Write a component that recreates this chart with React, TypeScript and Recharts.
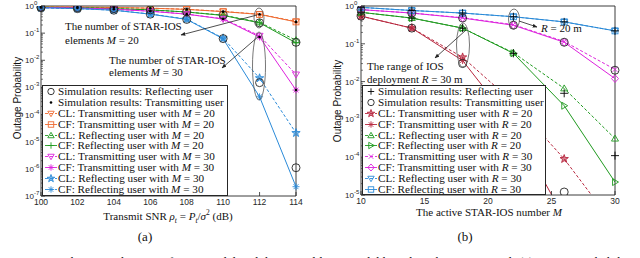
import React from 'react'
import { LineChart, Line, XAxis, YAxis, ReferenceArea } from 'recharts'

// ---- data ----
const snrDb = [100, 102, 104, 106, 108, 110, 112, 114]
const clTxM20 = [0.93, 0.91, 0.88, 0.83, 0.76, 0.63, 0.5, 0.27]
const cfTxM20 = [0.93, 0.91, 0.88, 0.83, 0.75, 0.62, 0.49, 0.26]
const clRefM20 = [0.9, 0.87, 0.8, 0.72, 0.6, 0.46, 0.25, 0.055]
const cfRefM20 = [0.9, 0.87, 0.8, 0.72, 0.6, 0.45, 0.24, 0.044]
const clTxM30 = [0.88, 0.84, 0.76, 0.65, 0.5, 0.34, 0.08, 0.003]
const cfTxM30 = [0.88, 0.84, 0.76, 0.64, 0.5, 0.33, 0.072, 0.0008]
const clRefM30 = [0.86, 0.8, 0.7, 0.51, 0.33, 0.065, 0.0022, 2.1e-5]
const cfRefM30 = [0.86, 0.8, 0.7, 0.5, 0.32, 0.062, 0.00045, 2.2e-7]
const simRefM20 = [0.9, 0.87, 0.8, 0.72, 0.6, 0.46, 0.24, 0.046]
const simRefM30 = [0.86, 0.8, 0.7, 0.5, 0.32, 0.063, 0.0015, 1.1e-6]
const simTxM20 = [0.93, 0.91, 0.88, 0.83, 0.75, 0.62, 0.49, 0.26]
const simTxM30 = [0.88, 0.84, 0.76, 0.64, 0.5, 0.33, 0.072, 0.0008]

const activeM = [10, 14, 18, 22, 26, 30]
const clTxR20 = [0.54, 0.26, 0.044, 2.8e-3, 9e-5, 1.5e-6]
const cfTxR20 = [0.54, 0.26, 0.036, 7e-4, 2.5e-6, 2e-8]
const clRefR20 = [0.68, 0.48, 0.26, 0.058, 6.6e-3, 3.1e-4]
const cfRefR20 = [0.68, 0.48, 0.26, 0.056, 2.3e-3, 2.2e-5]
const clTxR30 = [0.8, 0.65, 0.49, 0.32, 0.115, 0.021]
const cfTxR30 = [0.8, 0.65, 0.48, 0.31, 0.11, 0.012]
const clRefR30 = [0.92, 0.76, 0.65, 0.52, 0.38, 0.22]
const cfRefR30 = [0.92, 0.76, 0.65, 0.52, 0.38, 0.22]
const simRefR20 = [0.68, 0.48, 0.26, 0.056, 4.9e-3, 1.1e-4]
const simRefR30 = [0.92, 0.76, 0.65, 0.52, 0.38, 0.22]
const simTxR20 = [0.54, 0.26, 0.03, 1e-3, 1.2e-5, 1e-7]
const simTxR30 = [0.8, 0.65, 0.48, 0.31, 0.11, 0.02]

const leftXTicks = [100, 102, 104, 106, 108, 110, 112, 114]
const rightXTicks = [10, 15, 20, 25, 30]

// decade ticks plus the 2..9 minor ticks of a log axis
function logTicks(minExp: number) {
  const out: number[] = []
  for (let e = minExp; e < 0; e++) {
    for (let m = 1; m <= 9; m++) out.push(Number((m * Math.pow(10, e)).toPrecision(3)))
  }
  out.push(1)
  return out
}
const leftYTicks = logTicks(-7)
const rightYTicks = logTicks(-5)

const leftRows = snrDb.map((x, i) => ({
  x,
  clTxM20: clTxM20[i], cfTxM20: cfTxM20[i], clRefM20: clRefM20[i], cfRefM20: cfRefM20[i],
  clTxM30: clTxM30[i], cfTxM30: cfTxM30[i], clRefM30: clRefM30[i], cfRefM30: cfRefM30[i],
  simRefM20: simRefM20[i], simRefM30: simRefM30[i], simTxM20: simTxM20[i], simTxM30: simTxM30[i],
}))

const rightRows = activeM.map((x, i) => ({
  x,
  clTxR20: clTxR20[i], cfTxR20: cfTxR20[i], clRefR20: clRefR20[i], cfRefR20: cfRefR20[i],
  clTxR30: clTxR30[i], cfTxR30: cfTxR30[i], clRefR30: clRefR30[i], cfRefR30: cfRefR30[i],
  simRefR20: simRefR20[i], simRefR30: simRefR30[i], simTxR20: simTxR20[i], simTxR30: simTxR30[i],
}))

const SERIF = '"Liberation Serif", "Times New Roman", serif'
const SANS = '"Liberation Sans", Arial, sans-serif'
const AX = '#262626'

const ORANGE = '#ee6a30'
const GREEN = '#1f9a1f'
const MAGENTA = '#dd22dd'
const BLUE = '#2a8ad8'
const RED = '#b8283f'
const DASH = '3 2'

type Shape = 'circle' | 'dot' | 'triDown' | 'triUp' | 'triRight' | 'square' | 'plus' | 'asterisk' | 'star' | 'cross' | 'diamond'

function MarkerShape({ shape, cx, cy, color, s = 3.5 }: { shape: Shape; cx: number; cy: number; color: string; s?: number }) {
  const sw = 0.9
  const common = { fill: 'none', stroke: color, strokeWidth: sw }
  switch (shape) {
    case 'circle':
      return <circle cx={cx} cy={cy} r={s} {...common} />
    case 'dot':
      return <circle cx={cx} cy={cy} r={1.3} fill={color} />
    case 'triDown':
      return <polygon points={`${cx - s},${cy - s * 0.7} ${cx + s},${cy - s * 0.7} ${cx},${cy + s}`} {...common} />
    case 'triUp':
      return <polygon points={`${cx - s},${cy + s * 0.7} ${cx + s},${cy + s * 0.7} ${cx},${cy - s}`} {...common} />
    case 'triRight':
      return <polygon points={`${cx - s * 0.7},${cy - s} ${cx - s * 0.7},${cy + s} ${cx + s},${cy}`} {...common} />
    case 'square':
      return <rect x={cx - s * 0.85} y={cy - s * 0.85} width={s * 1.7} height={s * 1.7} {...common} />
    case 'diamond':
      return <polygon points={`${cx},${cy - s * 1.1} ${cx + s},${cy} ${cx},${cy + s * 1.1} ${cx - s},${cy}`} {...common} />
    case 'plus':
      return (
        <g stroke={color} strokeWidth={sw}>
          <line x1={cx - s} x2={cx + s} y1={cy} y2={cy} />
          <line x1={cx} x2={cx} y1={cy - s} y2={cy + s} />
        </g>
      )
    case 'cross':
      return (
        <g stroke={color} strokeWidth={sw}>
          <line x1={cx - s * 0.7} x2={cx + s * 0.7} y1={cy - s * 0.7} y2={cy + s * 0.7} />
          <line x1={cx - s * 0.7} x2={cx + s * 0.7} y1={cy + s * 0.7} y2={cy - s * 0.7} />
        </g>
      )
    case 'asterisk':
      return (
        <g stroke={color} strokeWidth={sw}>
          <line x1={cx - s} x2={cx + s} y1={cy} y2={cy} />
          <line x1={cx} x2={cx} y1={cy - s} y2={cy + s} />
          <line x1={cx - s * 0.7} x2={cx + s * 0.7} y1={cy - s * 0.7} y2={cy + s * 0.7} />
          <line x1={cx - s * 0.7} x2={cx + s * 0.7} y1={cy + s * 0.7} y2={cy - s * 0.7} />
        </g>
      )
    case 'star': {
      const pts: string[] = []
      for (let k = 0; k < 10; k++) {
        const r = k % 2 === 0 ? s * 1.25 : s * 0.5
        const a = -Math.PI / 2 + (k * Math.PI) / 5
        pts.push(`${cx + r * Math.cos(a)},${cy + r * Math.sin(a)}`)
      }
      return <polygon points={pts.join(' ')} fill={color} fillOpacity={0.6} stroke={color} strokeWidth={sw} />
    }
  }
  return null
}

type Series = { key: string; color: string; shape: Shape; dash?: string; noLine?: boolean; s?: number }

const leftSeries: Series[] = [
  { key: 'clTxM20', color: ORANGE, shape: 'triDown', dash: DASH },
  { key: 'cfTxM20', color: ORANGE, shape: 'square' },
  { key: 'clRefM20', color: GREEN, shape: 'triUp', dash: DASH },
  { key: 'cfRefM20', color: GREEN, shape: 'plus' },
  { key: 'clTxM30', color: MAGENTA, shape: 'triDown', dash: DASH },
  { key: 'cfTxM30', color: MAGENTA, shape: 'asterisk' },
  { key: 'clRefM30', color: BLUE, shape: 'star', dash: DASH },
  { key: 'cfRefM30', color: BLUE, shape: 'asterisk' },
  { key: 'simRefM20', color: AX, shape: 'circle', noLine: true, s: 4 },
  { key: 'simRefM30', color: AX, shape: 'circle', noLine: true, s: 4 },
  { key: 'simTxM20', color: '#000', shape: 'dot', noLine: true },
  { key: 'simTxM30', color: '#000', shape: 'dot', noLine: true },
]

const rightSeries: Series[] = [
  { key: 'clTxR20', color: RED, shape: 'star', dash: DASH },
  { key: 'cfTxR20', color: RED, shape: 'asterisk' },
  { key: 'clRefR20', color: GREEN, shape: 'triUp', dash: DASH },
  { key: 'cfRefR20', color: GREEN, shape: 'triRight' },
  { key: 'clTxR30', color: MAGENTA, shape: 'cross', dash: DASH },
  { key: 'cfTxR30', color: MAGENTA, shape: 'diamond' },
  { key: 'clRefR30', color: BLUE, shape: 'triDown', dash: DASH },
  { key: 'cfRefR30', color: BLUE, shape: 'square' },
  { key: 'simRefR20', color: '#000', shape: 'plus', noLine: true, s: 4 },
  { key: 'simRefR30', color: '#000', shape: 'plus', noLine: true, s: 4 },
  { key: 'simTxR20', color: AX, shape: 'circle', noLine: true, s: 4 },
  { key: 'simTxR30', color: AX, shape: 'circle', noLine: true, s: 4 },
]

const isDecade = (v: number) => Math.abs(Math.log10(v) - Math.round(Math.log10(v))) < 1e-6

function LogTick(props: any) {
  const { x, y, payload } = props
  const v = payload.value as number
  if (!isDecade(v)) {
    return <line x1={x + 3} x2={x + 5} y1={y} y2={y} stroke={AX} strokeWidth={0.6} />
  }
  const exp = Math.round(Math.log10(v))
  return (
    <g>
      <line x1={x + 3} x2={x + 7} y1={y} y2={y} stroke={AX} strokeWidth={0.8} />
      <text x={x - 13} y={y + 3} fontSize={8} fontFamily={SANS} fill={AX}>
        10
        <tspan dy={-4} fontSize={6}>{exp}</tspan>
      </text>
    </g>
  )
}

// inward tick marks on the right edge of the box
function RightTick(props: any) {
  const { x, y, payload } = props
  const len = isDecade(payload.value) ? 4 : 2
  return <line x1={x} x2={x - len} y1={y} y2={y} stroke={AX} strokeWidth={0.6} />
}

function TopTick(props: any) {
  const { x, y } = props
  return <line x1={x} x2={x} y1={y} y2={y + 4} stroke={AX} strokeWidth={0.6} />
}

function NumTick(props: any) {
  const { x, y, payload } = props
  return (
    <g>
      <line x1={x} x2={x} y1={y - 3} y2={y - 7} stroke={AX} strokeWidth={0.8} />
      <text x={x} y={y + 6} textAnchor="middle" fontSize={8.5} fontFamily={SANS} fill={AX}>
        {payload.value}
      </text>
    </g>
  )
}

function renderSeries(list: Series[]) {
  return list.map((sr) => (
    <Line
      key={sr.key}
      dataKey={sr.key}
      type="linear"
      stroke={sr.noLine ? 'none' : sr.color}
      strokeWidth={1}
      strokeDasharray={sr.dash}
      isAnimationActive={false}
      activeDot={false}
      dot={(p: any) =>
        p.cx == null || p.cy == null ? (
          <g key={`${sr.key}-${p.index}`} />
        ) : (
          <g key={`${sr.key}-${p.index}`}>
            <MarkerShape shape={sr.shape} cx={p.cx} cy={p.cy} color={sr.color} s={sr.s} />
          </g>
        )
      }
    />
  ))
}

type LegendItem = { text: string; sym?: string; val?: string; color: string; shape: Shape; dash?: string; line?: boolean }

const leftLegend: LegendItem[] = [
  { text: 'Simulation results: Reflecting user', color: AX, shape: 'circle' },
  { text: 'Simulation results: Transmitting user', color: '#000', shape: 'dot' },
  { text: 'CL: Transmitting user with', sym: 'M', val: '20', color: ORANGE, shape: 'triDown', dash: DASH, line: true },
  { text: 'CF: Transmitting user with', sym: 'M', val: '20', color: ORANGE, shape: 'square', line: true },
  { text: 'CL: Reflecting user with', sym: 'M', val: '20', color: GREEN, shape: 'triUp', dash: DASH, line: true },
  { text: 'CF: Reflecting user with', sym: 'M', val: '20', color: GREEN, shape: 'plus', line: true },
  { text: 'CL: Transmitting user with', sym: 'M', val: '30', color: MAGENTA, shape: 'triDown', dash: DASH, line: true },
  { text: 'CF: Transmitting user with', sym: 'M', val: '30', color: MAGENTA, shape: 'asterisk', line: true },
  { text: 'CL: Reflecting user with', sym: 'M', val: '30', color: BLUE, shape: 'star', dash: DASH, line: true },
  { text: 'CF: Reflecting user with', sym: 'M', val: '30', color: BLUE, shape: 'asterisk', dash: DASH, line: true },
]

const rightLegend: LegendItem[] = [
  { text: 'Simulation results: Reflecting user', color: '#000', shape: 'plus' },
  { text: 'Simulation results: Transmitting user', color: AX, shape: 'circle' },
  { text: 'CL: Transmitting user with', sym: 'R', val: '20', color: RED, shape: 'star', dash: DASH, line: true },
  { text: 'CF: Transmitting user with', sym: 'R', val: '20', color: RED, shape: 'asterisk', line: true },
  { text: 'CL: Reflecting user with', sym: 'R', val: '20', color: GREEN, shape: 'triUp', dash: DASH, line: true },
  { text: 'CF: Reflecting user with', sym: 'R', val: '20', color: GREEN, shape: 'triRight', line: true },
  { text: 'CL: Transmitting user with', sym: 'R', val: '30', color: MAGENTA, shape: 'cross', dash: DASH, line: true },
  { text: 'CF: Transmitting user with', sym: 'R', val: '30', color: MAGENTA, shape: 'diamond', line: true },
  { text: 'CL: Reflecting user with', sym: 'R', val: '30', color: BLUE, shape: 'triDown', dash: DASH, line: true },
  { text: 'CF: Reflecting user with', sym: 'R', val: '30', color: BLUE, shape: 'square', line: true },
]

function LegendBox({ items, left, top, width, height }: { items: LegendItem[]; left: number; top: number; width: number; height: number }) {
  return (
    <div
      style={{
        position: 'absolute', left, top, width, height, boxSizing: 'border-box',
        border: `1px solid ${AX}`, background: '#fff', padding: '0 0 0 1px', overflow: 'hidden',
        fontFamily: SERIF, fontSize: 11.2, color: '#111',
      }}
    >
      {items.map((it, i) => (
        <div key={i} style={{ height: 10.9, display: 'flex', alignItems: 'center', whiteSpace: 'nowrap', lineHeight: '11px' }}>
          <svg width={14} height={11} style={{ flex: 'none' }}>
            {it.line && <line x1={1} x2={13} y1={5.5} y2={5.5} stroke={it.color} strokeDasharray={it.dash} strokeWidth={0.9} />}
            <MarkerShape shape={it.shape} cx={7} cy={5.5} color={it.color} s={3.2} />
          </svg>
          <span>
            {it.text}
            {it.sym && (
              <>
                {' '}<i>{it.sym}</i>{' = '}{it.val}
              </>
            )}
          </span>
        </div>
      ))}
    </div>
  )
}

function Txt({ x, y, children, size = 11, center = false, font = SERIF }: { x: number; y: number; children: React.ReactNode; size?: number; center?: boolean; font?: string }) {
  return (
    <div
      style={{
        position: 'absolute', left: x, top: y - size * 0.6, fontFamily: font, fontSize: size,
        lineHeight: `${size * 1.2}px`, whiteSpace: 'nowrap', color: '#111',
        transform: center ? 'translateX(-50%)' : undefined,
      }}
    >
      {children}
    </div>
  )
}

export default function App() {
  return (
    <div style={{ position: 'relative', width: 640, height: 258, overflow: 'hidden', background: '#fff' }}>
      <style>{'body{margin:0}'}</style>

      <div style={{ position: 'absolute', left: 0, top: 0 }}>
        <LineChart width={310} height={215} data={leftRows} margin={{ top: 6, right: 14, bottom: 0, left: 0 }}>
          <XAxis dataKey="x" type="number" domain={[100, 114]} ticks={leftXTicks} interval={0} height={19}
            axisLine={false} tickLine={false} tickSize={0} tickMargin={3} tick={<NumTick />} />
          <XAxis xAxisId="top" orientation="top" dataKey="x" type="number" domain={[100, 114]} ticks={leftXTicks} interval={0} height={0}
            axisLine={false} tickLine={false} tickSize={0} tickMargin={0} tick={<TopTick />} />
          <YAxis type="number" scale="log" domain={[1e-7, 1]} ticks={leftYTicks} interval={0} width={41}
            allowDataOverflow axisLine={false} tickLine={false} tickSize={0} tickMargin={3} tick={<LogTick />} />
          <YAxis yAxisId="right" orientation="right" type="number" scale="log" domain={[1e-7, 1]} ticks={leftYTicks} interval={0} width={0}
            allowDataOverflow axisLine={false} tickLine={false} tickSize={0} tickMargin={0} tick={<RightTick />} />
          <ReferenceArea x1={100} x2={114} y1={1e-7} y2={1} fill="none" stroke={AX} strokeWidth={0.9} ifOverflow="visible" />
          {renderSeries(leftSeries)}
        </LineChart>
      </div>

      <div style={{ position: 'absolute', left: 320, top: 0 }}>
        <LineChart width={320} height={215} data={rightRows} margin={{ top: 6, right: 25, bottom: 0, left: 0 }}>
          <XAxis dataKey="x" type="number" domain={[10, 30]} ticks={rightXTicks} interval={0} height={20}
            axisLine={false} tickLine={false} tickSize={0} tickMargin={3} tick={<NumTick />} />
          <XAxis xAxisId="top" orientation="top" dataKey="x" type="number" domain={[10, 30]} ticks={rightXTicks} interval={0} height={0}
            axisLine={false} tickLine={false} tickSize={0} tickMargin={0} tick={<TopTick />} />
          <YAxis type="number" scale="log" domain={[1e-5, 1]} ticks={rightYTicks} interval={0} width={41}
            allowDataOverflow axisLine={false} tickLine={false} tickSize={0} tickMargin={3} tick={<LogTick />} />
          <YAxis yAxisId="right" orientation="right" type="number" scale="log" domain={[1e-5, 1]} ticks={rightYTicks} interval={0} width={0}
            allowDataOverflow axisLine={false} tickLine={false} tickSize={0} tickMargin={0} tick={<RightTick />} />
          <ReferenceArea x1={10} x2={30} y1={1e-5} y2={1} fill="none" stroke={AX} strokeWidth={0.9} ifOverflow="visible" />
          {renderSeries(rightSeries)}
        </LineChart>
      </div>

      {/* ellipses and arrows */}
      <svg width={640} height={258} style={{ position: 'absolute', left: 0, top: 0, pointerEvents: 'none' }}>
        <defs>
          <marker id="ah" viewBox="0 0 10 10" refX={9} refY={5} markerWidth={6} markerHeight={6} orient="auto">
            <path d="M0,1 L10,5 L0,9 z" fill="#222" />
          </marker>
        </defs>
        <g fill="none" stroke="#555" strokeWidth={0.8}>
          <ellipse cx={259} cy={18} rx={5} ry={10} />
          <ellipse cx={259} cy={66} rx={6.5} ry={34} />
          <ellipse cx={463} cy={45} rx={6.5} ry={22} />
          <ellipse cx={514} cy={19} rx={5.5} ry={10} />
        </g>
        <g stroke="#222" strokeWidth={0.8}>
          <line x1={257} y1={15} x2={181} y2={35} markerEnd="url(#ah)" />
          <line x1={259} y1={36} x2={222} y2={68} markerEnd="url(#ah)" />
          <line x1={519} y1={21} x2={537} y2={27} markerEnd="url(#ah)" />
          <line x1={466} y1={30} x2={435} y2={58} markerEnd="url(#ah)" />
        </g>
      </svg>

      <Txt x={65} y={27}>The number of STAR-IOS</Txt>
      <Txt x={65} y={41}>elements <i>M</i> = 20</Txt>
      <Txt x={109} y={61}>The number of STAR-IOS</Txt>
      <Txt x={109} y={73}>elements <i>M</i> = 30</Txt>
      <Txt x={541} y={29}><i>R</i> = 20 m</Txt>
      <Txt x={367} y={67}>The range of IOS</Txt>
      <Txt x={367} y={80}>deployment <i>R</i> = 30 m</Txt>

      <LegendBox items={leftLegend} left={42} top={85} width={186} height={111} />
      <LegendBox items={rightLegend} left={362} top={85} width={184} height={110} />

      {/* axis titles */}
      <div style={{ position: 'absolute', left: 17, top: 98, transform: 'translate(-50%,-50%) rotate(-90deg)', fontFamily: SANS, fontSize: 10, whiteSpace: 'nowrap', color: '#111' }}>
        Outage Probability
      </div>
      <div style={{ position: 'absolute', left: 337, top: 101, transform: 'translate(-50%,-50%) rotate(-90deg)', fontFamily: SANS, fontSize: 10, whiteSpace: 'nowrap', color: '#111' }}>
        Outage Probability
      </div>
      <Txt x={168} y={213} center>
        Transmit SNR <i>ρ</i><sub style={{ fontSize: 7.5 }}><i>t</i></sub> = <i>P</i><sub style={{ fontSize: 7.5 }}><i>t</i></sub>/<i>σ</i><sup style={{ fontSize: 7.5 }}>2</sup> (dB)
      </Txt>
      <Txt x={489} y={213} center>The active STAR-IOS number <i>M</i></Txt>

      <Txt x={145} y={237} size={13} center>(a)</Txt>
      <Txt x={465} y={237} size={13} center>(b)</Txt>

      <Txt x={-1} y={262} size={13}>
        Comparisons between the curve fitting model and the central limit model based on the FS protocol: (a) Outage probability
      </Txt>
    </div>
  )
}
